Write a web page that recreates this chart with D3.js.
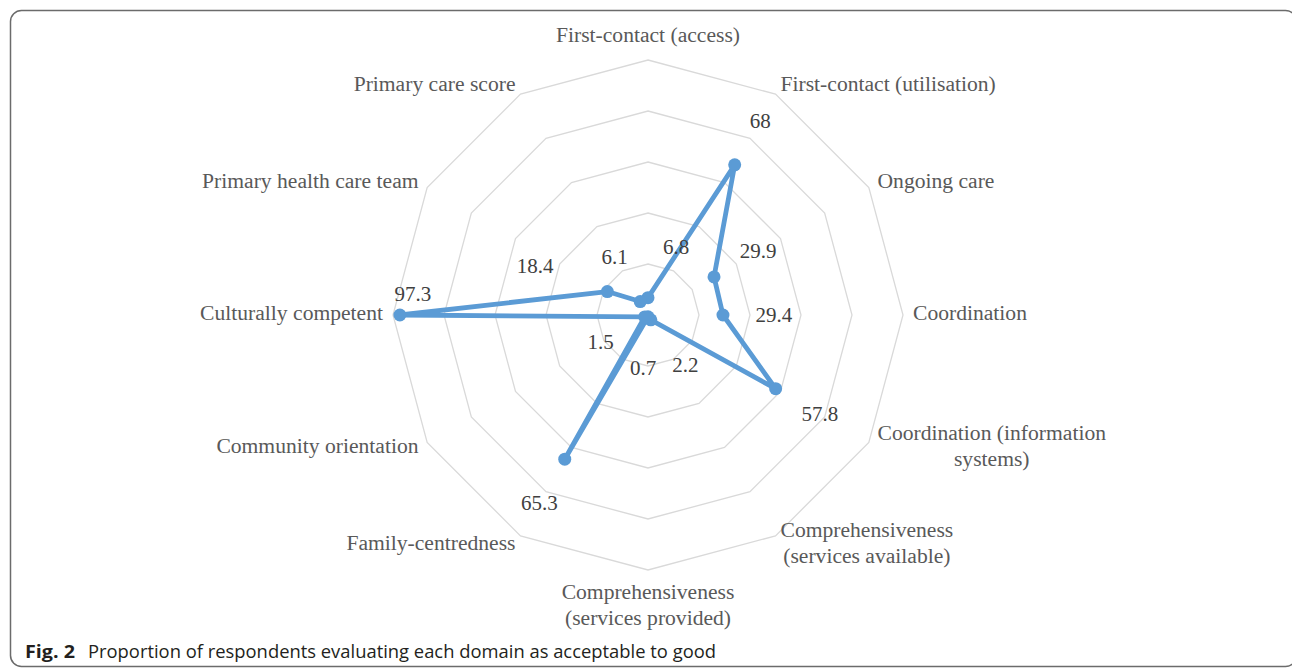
<!DOCTYPE html>
<html>
<head>
<meta charset="utf-8">
<script src="https://cdn.jsdelivr.net/npm/d3@7"></script>
<style>
  html, body { margin: 0; padding: 0; background: #fff; }
  svg { display: block; }
</style>
</head>
<body>
<svg id="chart" width="1292" height="668"></svg>
<script>
// ---- data ----
const categories = [
  "First-contact (access)",
  "First-contact (utilisation)",
  "Ongoing care",
  "Coordination",
  "Coordination (information systems)",
  "Comprehensiveness (services available)",
  "Comprehensiveness (services provided)",
  "Family-centredness",
  "Community orientation",
  "Culturally competent",
  "Primary health care team",
  "Primary care score"
];
const values = [6.8, 68, 29.9, 29.4, 57.8, 2.2, 0.7, 65.3, 1.5, 97.3, 18.4, 6.1];
const ringTicks = [20, 40, 60, 80, 100];
const captionBold = "Fig. 2";
const captionText = "Proportion of respondents evaluating each domain as acceptable to good";

// ---- layout ----
const svg = d3.select("#chart");
const cx = 648, cy = 315, R = 255;
const blue = "#5B9BD5";
const serif = "'Liberation Serif', 'Times New Roman', serif";
const catFont = 21.6;
const valFont = 21;
const lineH = 26;

// frame
svg.append("rect")
  .attr("x", 10.5).attr("y", 10.5)
  .attr("width", 1286).attr("height", 656)
  .attr("rx", 11).attr("ry", 11)
  .attr("fill", "none").attr("stroke", "#6b6b6b").attr("stroke-width", 1.5);

const r = d3.scaleLinear().domain([0, 100]).range([0, R]);
const angle = d3.scaleLinear().domain([0, categories.length]).range([0, 2 * Math.PI]);

const g = svg.append("g").attr("transform", `translate(${cx},${cy})`);

// rings
const ringLine = d3.lineRadial()
  .angle((d, i) => angle(i))
  .radius(d => d)
  .curve(d3.curveLinearClosed);

g.selectAll("path.ring").data(ringTicks).join("path")
  .attr("class", "ring")
  .attr("d", t => ringLine(categories.map(() => r(t))))
  .attr("fill", "none")
  .attr("stroke", "#d9d9d9")
  .attr("stroke-width", 1.3);

// data polygon
const dataLine = d3.lineRadial()
  .angle((d, i) => angle(i))
  .radius(d => r(d))
  .curve(d3.curveLinearClosed);

g.append("path")
  .attr("d", dataLine(values))
  .attr("fill", "none")
  .attr("stroke", blue)
  .attr("stroke-width", 4.8)
  .attr("stroke-linejoin", "round");

const pt = (v, i, extra = 0) => {
  const a = angle(i), rr = r(v) + extra;
  return [rr * Math.sin(a), -rr * Math.cos(a)];
};

g.selectAll("circle.mk").data(values).join("circle")
  .attr("class", "mk")
  .attr("cx", (d, i) => pt(d, i)[0])
  .attr("cy", (d, i) => pt(d, i)[1])
  .attr("r", 6.5)
  .attr("fill", blue);

// value labels (placed outward along each axis, with a few nudges like the original)
const labelGap = 51;
const nudges = { 0: [28, 0], 5: [9, 1], 6: [-5, 0], 10: [-28, 0], 9: [64, -21] };
g.selectAll("text.val").data(values).join("text")
  .attr("class", "val")
  .attr("x", (d, i) => pt(d, i, labelGap)[0] + (nudges[i] ? nudges[i][0] : 0))
  .attr("y", (d, i) => pt(d, i, labelGap)[1] + (nudges[i] ? nudges[i][1] : 0))
  .attr("dy", "0.33em")
  .attr("text-anchor", "middle")
  .attr("font-family", serif)
  .attr("font-size", valFont)
  .attr("fill", "#404040")
  .text(d => d);

// category labels
const maxW = 240;
const measurer = svg.append("text").attr("font-family", serif).attr("font-size", catFont).attr("visibility", "hidden");
const measure = s => { measurer.text(s); return measurer.node().getComputedTextLength(); };
function wrap(s) {
  const words = s.split(" ");
  const lines = [];
  let cur = "";
  words.forEach(w => {
    const test = cur ? cur + " " + w : w;
    if (cur && measure(test) > maxW) { lines.push(cur); cur = w; }
    else cur = test;
  });
  if (cur) lines.push(cur);
  return lines;
}

categories.forEach((c, i) => {
  const a = angle(i);
  const s = Math.sin(a), co = Math.cos(a);
  const [vx, vy] = pt(100, i);
  const px = vx + 10 * s, py = vy - 10 * co;
  const lines = wrap(c);
  const n = lines.length;
  const widths = lines.map(measure);
  const bw = d3.max(widths);
  let firstY, anchor, lineX;
  if (Math.abs(s) < 0.01) {
    anchor = "middle";
    lineX = () => px;
    firstY = co > 0 ? py - 15 - (n - 1) * lineH : py + 12;
  } else {
    firstY = py - 2 - (n - 1) * lineH / 2;
    if (n === 1) {
      anchor = s > 0 ? "start" : "end";
      lineX = () => px;
    } else {
      anchor = "middle";
      lineX = () => (s > 0 ? px + bw / 2 : px - bw / 2);
    }
  }
  const t = g.append("text")
    .attr("font-family", serif)
    .attr("font-size", catFont)
    .attr("fill", "#595959")
    .attr("text-anchor", anchor);
  lines.forEach((ln, k) => {
    t.append("tspan")
      .attr("x", lineX(k))
      .attr("y", firstY + k * lineH)
      .attr("dy", "0.33em")
      .text(ln);
  });
});
measurer.remove();

// caption
const cap = svg.append("g").attr("font-family", "'Open Sans', 'Noto Sans', sans-serif").attr("font-size", 18).attr("fill", "#231f20");
cap.append("text").attr("x", 25).attr("y", 658).attr("font-weight", "bold")
  .attr("textLength", 50).attr("lengthAdjust", "spacingAndGlyphs")
  .text(captionBold);
cap.append("text").attr("x", 88).attr("y", 658)
  .attr("textLength", 628).attr("lengthAdjust", "spacingAndGlyphs")
  .text(captionText);
</script>
</body>
</html>
